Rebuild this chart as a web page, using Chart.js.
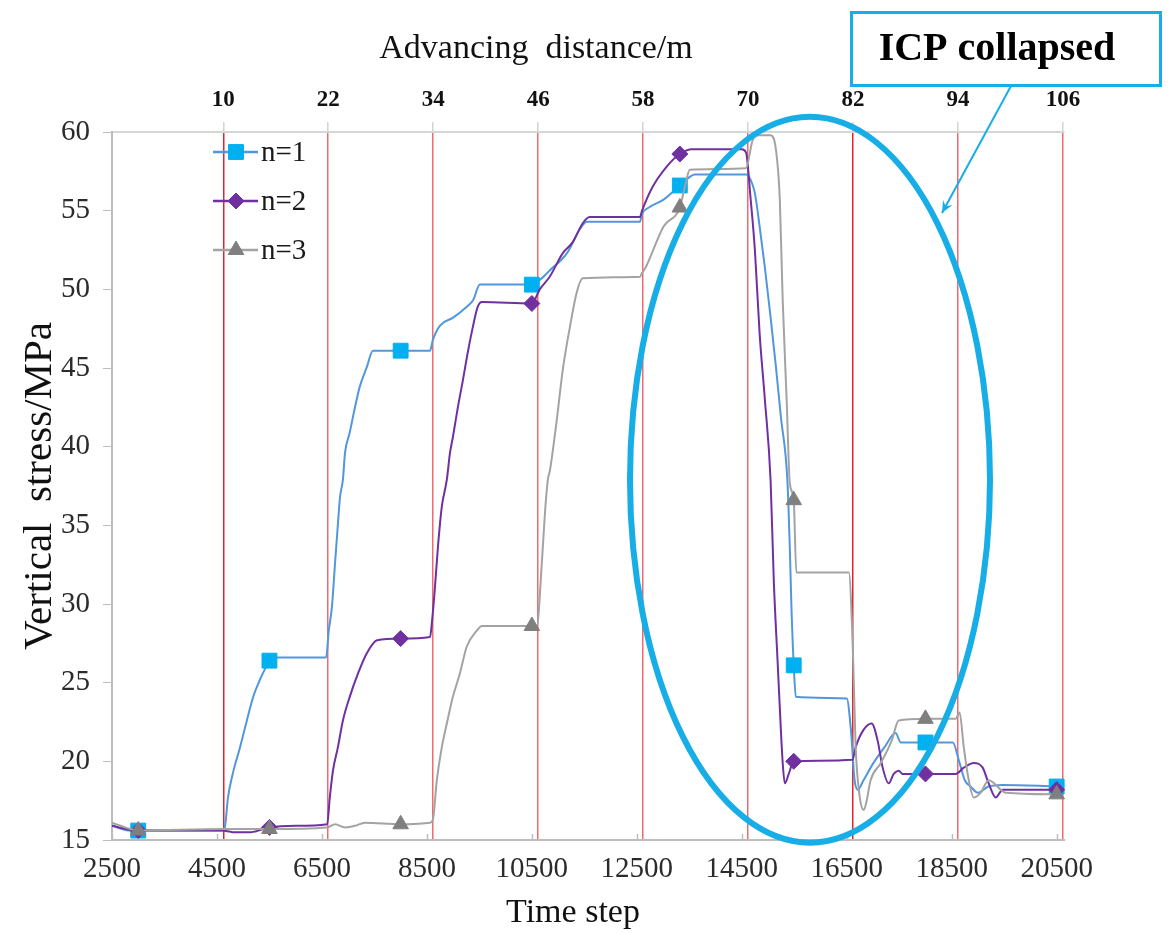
<!DOCTYPE html>
<html>
<head>
<meta charset="utf-8">
<title>Vertical stress vs time step</title>
<script src="https://cdn.jsdelivr.net/npm/chart.js@4.4.0/dist/chart.umd.min.js"></script>
<style>
  html, body { margin: 0; padding: 0; background: #ffffff; }
  canvas { display: block; }
</style>
</head>
<body>
<canvas id="c" width="1168" height="933"></canvas>
<script>
// ---- data: time step vs vertical stress (MPa) for three roof conditions ----
const stepsN1 = [2500, 2850, 3000, 4600, 4650, 4710, 4800, 4940, 5070, 5190, 5320, 5450, 5500, 5600, 6580,
  6630, 6690, 6750, 6805, 6845, 6900, 6940, 7030, 7130, 7220, 7360, 7470, 8000, 8560, 8615, 8750, 9000,
  9260, 9380, 9510, 10500, 10650, 10840, 11170, 11410, 11550, 12560, 12600, 12730, 13010, 13320, 13490,
  13600, 14580, 14630, 14750, 14840, 14940, 15050, 15150, 15245, 15370, 15415, 15450, 15475, 15490, 15530,
  16500, 16580, 16650, 16710, 16820, 17010, 17220, 17430, 17530, 18000, 18520, 18650, 18750, 18860, 19000,
  19200, 19470, 20500];
const stressN1 = [15.9, 15.6, 15.6, 15.6, 15.8, 17.7, 19.2, 20.9, 22.6, 24.1, 25.2, 26.1, 26.4, 26.6, 26.6,
  28.3, 29.8, 32.6, 35.1, 36.8, 37.9, 39.6, 40.9, 42.5, 43.8, 45.1, 46.1, 46.1, 46.1, 46.8, 47.7, 48.2,
  48.9, 49.3, 50.3, 50.3, 50.6, 51.2, 52.3, 53.8, 54.3, 54.3, 54.8, 55.2, 55.7, 56.6, 57.1,
  57.3, 57.3, 57.2, 56.1, 54.0, 51.4, 48.2, 45.1, 41.9, 37.8, 33.6, 29.4, 27.2, 26.1, 24.1,
  24.0, 22.0, 18.8, 18.2, 18.8, 19.9, 20.9, 21.8, 21.2, 21.2, 21.2, 19.9, 18.8, 18.4, 18.0,
  18.4, 18.5, 18.4];

const stepsN2 = [2500, 2850, 3000, 4600, 4800, 5150, 5500, 6000, 6600, 6650, 6710, 6805, 6900, 7030, 7190,
  7360, 7550, 8000, 8560, 8595, 8650, 8710, 8785, 8880, 8940, 8995, 9090, 9185, 9280, 9375, 9470, 9550,
  10500, 10650, 10840, 11090, 11280, 11470, 11600, 12560, 12600, 12800, 13070, 13320, 13550, 14500, 14580,
  14670, 14750, 14840, 14940, 15050, 15110, 15185, 15245, 15280, 15320, 15395, 15490, 16610, 16670, 16820,
  16975, 17090, 17185, 17300, 17395, 17490, 17565, 18000, 18575, 18730, 18920, 19090, 19205, 19340, 19470,
  20500];
const stressN2 = [15.9, 15.65, 15.6, 15.6, 15.5, 15.5, 15.8, 15.9, 16.0, 17.7, 19.4, 20.9, 22.6, 24.1, 25.6,
  26.9, 27.7, 27.8, 27.9, 28.8, 30.9, 33.6, 36.2, 37.9, 39.6, 40.6, 42.5, 44.2, 46.0, 47.6, 48.9, 49.2,
  49.1, 50.0, 50.8, 52.3, 53.0, 54.2, 54.6, 54.6, 55.0, 56.5, 57.8, 58.6, 58.9, 58.9, 58.7,
  55.7, 52.5, 47.2, 43.0, 37.8, 31.5, 26.2, 22.0, 19.9, 18.6, 19.2, 20.0, 20.1, 20.9, 22.0,
  22.4, 21.3, 19.6, 18.6, 19.2, 19.4, 19.2, 19.2, 19.2, 19.6, 19.9, 19.6, 18.6, 17.7, 18.2,
  18.2];

const stepsN3 = [2500, 2850, 3000, 4600, 5500, 6600, 6750, 6940, 7130, 7320, 8000, 8560, 8615, 8690, 8785,
  8880, 8995, 9130, 9260, 9450, 9550, 10500, 10595, 10690, 10750, 10805, 10845, 10975, 11090, 11225, 11355,
  11470, 12560, 12595, 12670, 13010, 13320, 13415, 13510, 14580, 14710, 14840, 15050, 15150, 15225, 15280,
  15355, 15415, 15490, 15540, 16540, 16615, 16670, 16750, 16825, 16880, 16955, 17150, 17355, 17490, 18000,
  18575, 18650, 18730, 18825, 18920, 19050, 19205, 19530, 20500];
const stressN3 = [16.1, 15.7, 15.6, 15.7, 15.7, 15.8, 16.0, 15.8, 15.9, 16.1, 16.0, 16.1, 16.3, 18.8, 20.9,
  22.4, 24.1, 25.6, 27.3, 28.3, 28.6, 28.6, 28.6, 32.6, 35.8, 37.9, 38.5, 41.7, 44.9, 47.6, 49.8,
  50.7, 50.8, 51.0, 51.4, 54.0, 55.2, 56.5, 57.6, 57.7, 59.5, 59.8, 59.8, 58.9, 55.7, 49.3,
  43.0, 37.7, 36.6, 32.0, 32.0, 27.3, 20.9, 17.7, 16.9, 17.5, 18.8, 19.9, 21.3, 22.6, 22.7,
  22.7, 23.1, 20.9, 18.8, 17.7, 18.0, 18.8, 18.0, 17.9];

// time steps carrying a marker symbol on every curve
const markerSteps = [3000, 5500, 8000, 10500, 13320, 15490, 18000, 20500];

// tick labels
const timeTicks = [2500, 4500, 6500, 8500, 10500, 12500, 14500, 16500, 18500, 20500];
const distanceTicks = [10, 22, 34, 46, 58, 70, 82, 94, 106];
const stressTicks = [15, 20, 25, 30, 35, 40, 45, 50, 55, 60];
const seriesNames = ['n=1', 'n=2', 'n=3'];

// ---- axis relations ----
const stepMin = 2500, stepMax = 20640;
const firstFaceStep = 4620;          // time step at 10 m of advance
const metresPerStep = 12 / 2000;     // 12 m of advance per 2000 steps
const toDistance = t => 10 + (t - firstFaceStep) * metresPerStep;

const serif = "'Liberation Serif', 'Times New Roman', serif";
const cyan = '#17ade6';

function series(label, steps, stress, lineColor, markerColor, style, radius, order) {
  return {
    label,
    data: steps.map((s, i) => ({ x: s, y: stress[i] })),
    borderColor: lineColor,
    backgroundColor: markerColor,
    pointBackgroundColor: markerColor,
    pointBorderColor: markerColor,
    pointBorderWidth: 1,
    pointStyle: style,
    markerRadius: radius,
    pointRadius: ctx => (ctx.raw && markerSteps.includes(ctx.raw.x)) ? radius : 0,
    pointHoverRadius: 0,
    borderWidth: 2,
    cubicInterpolationMode: 'monotone',
    order,
    clip: 12
  };
}

const datasets = [
  series(seriesNames[0], stepsN1, stressN1, '#5197dc', '#00b0f0', 'rect', 10.5, 2),
  series(seriesNames[1], stepsN2, stressN2, '#7030a0', '#7030a0', 'rectRot', 8, 1),
  series(seriesNames[2], stepsN3, stressN3, '#a3a3a3', '#7f7f7f', 'triangle', 9, 0)
];

// axis titles, legend, collapse zone and callout drawn over the plot
const overlay = {
  id: 'overlay',
  afterDraw(chart) {
    const { ctx, scales: { x, y } } = chart;
    ctx.save();

    // inward tick marks on the time-step axis
    ctx.strokeStyle = '#bdbdbd';
    ctx.lineWidth = 1.5;
    timeTicks.forEach(t => {
      const px = Math.round(x.getPixelForValue(t)) + 0.5;
      ctx.beginPath();
      ctx.moveTo(px, y.bottom);
      ctx.lineTo(px, y.bottom - 6);
      ctx.stroke();
    });

    // axis titles
    ctx.fillStyle = '#111';
    ctx.textBaseline = 'alphabetic';
    ctx.textAlign = 'center';
    ctx.font = `34px ${serif}`;
    ctx.fillText('Advancing  distance/m', 536, 58);
    ctx.fillText('Time step', 573, 922);
    ctx.save();
    ctx.translate(51, 486);
    ctx.rotate(-Math.PI / 2);
    ctx.font = `41px ${serif}`;
    ctx.fillText('Vertical  stress/MPa', 0, 0);
    ctx.restore();

    // legend
    chart.data.datasets.forEach((ds, i) => {
      const rowY = 152 + i * 49;
      ctx.strokeStyle = ds.borderColor;
      ctx.lineWidth = 2.5;
      ctx.beginPath();
      ctx.moveTo(213, rowY);
      ctx.lineTo(258, rowY);
      ctx.stroke();
      ctx.fillStyle = ds.pointBackgroundColor;
      ctx.strokeStyle = ds.pointBorderColor;
      ctx.lineWidth = 1;
      Chart.helpers.drawPoint(ctx, { pointStyle: ds.pointStyle, radius: ds.markerRadius, rotation: 0, borderWidth: 1 }, 236, rowY);
      ctx.fillStyle = '#1a1a1a';
      ctx.font = `29px ${serif}`;
      ctx.textAlign = 'left';
      ctx.textBaseline = 'middle';
      ctx.fillText(ds.label, 261, rowY + 1);
    });

    // collapse zone ellipse (data coordinates)
    const cStep = 15800, cStress = 37.9, halfSteps = 3430, halfStress = 23.07;
    const cx = x.getPixelForValue(cStep);
    const cy = y.getPixelForValue(cStress);
    const rx = x.getPixelForValue(cStep + halfSteps) - cx;
    const ry = cy - y.getPixelForValue(cStress + halfStress);
    ctx.beginPath();
    ctx.ellipse(cx, cy, rx, ry, 0, 0, Math.PI * 2);
    ctx.lineWidth = 6;
    ctx.strokeStyle = cyan;
    ctx.stroke();

    // callout box
    ctx.lineWidth = 3;
    ctx.strokeStyle = cyan;
    ctx.strokeRect(851.5, 12.5, 309, 73);
    ctx.fillStyle = '#000';
    ctx.font = `bold 40px ${serif}`;
    ctx.textAlign = 'center';
    ctx.textBaseline = 'middle';
    ctx.fillText('ICP collapsed', 997, 50);

    // pointer from the callout to the ellipse
    const x0 = 1011, y0 = 86, x1 = 942, y1 = 213;
    ctx.lineWidth = 2;
    ctx.beginPath();
    ctx.moveTo(x0, y0);
    ctx.lineTo(x1, y1);
    ctx.stroke();
    const ang = Math.atan2(y1 - y0, x1 - x0);
    const head = 13, spread = 0.42;
    ctx.beginPath();
    ctx.moveTo(x1, y1);
    ctx.lineTo(x1 - head * Math.cos(ang - spread), y1 - head * Math.sin(ang - spread));
    ctx.lineTo(x1 - head * 0.6 * Math.cos(ang), y1 - head * 0.6 * Math.sin(ang));
    ctx.lineTo(x1 - head * Math.cos(ang + spread), y1 - head * Math.sin(ang + spread));
    ctx.closePath();
    ctx.fillStyle = cyan;
    ctx.fill();

    ctx.restore();
  }
};

const strongLines = [10, 82];

new Chart(document.getElementById('c'), {
  type: 'line',
  data: { datasets },
  options: {
    responsive: false,
    animation: false,
    devicePixelRatio: 1,
    layout: { padding: { left: 0, right: 104, top: 0, bottom: 0 } },
    plugins: { legend: { display: false }, tooltip: { enabled: false } },
    scales: {
      x: {
        type: 'linear',
        position: 'bottom',
        min: stepMin,
        max: stepMax,
        afterBuildTicks: s => { s.ticks = timeTicks.map(v => ({ value: v })); },
        afterFit: s => { s.height = 93; },
        grid: { drawOnChartArea: false, drawTicks: false },
        border: { color: '#bdbdbd', width: 2 },
        ticks: { padding: 12, autoSkip: false, maxRotation: 0, color: '#2b2b2b',
                 font: { family: serif, size: 29 }, callback: v => String(v) }
      },
      x2: {
        type: 'linear',
        position: 'top',
        min: toDistance(stepMin),
        max: toDistance(stepMax),
        afterBuildTicks: s => { s.ticks = distanceTicks.map(v => ({ value: v })); },
        afterFit: s => { s.height = 132; },
        grid: {
          drawOnChartArea: true,
          color: c => strongLines.includes(c.tick && c.tick.value) ? '#e3252b' : '#f06a6e',
          lineWidth: 1.5,
          tickColor: '#d4d4d4',
          tickLength: 10
        },
        border: { color: '#d6d6d6', width: 2 },
        ticks: { padding: 8, autoSkip: false, maxRotation: 0, color: '#111',
                 font: { family: serif, size: 23, weight: 'bold' }, callback: v => String(v) }
      },
      y: {
        min: 15,
        max: 60,
        afterBuildTicks: s => { s.ticks = stressTicks.map(v => ({ value: v })); },
        afterFit: s => { s.width = 112; },
        grid: { drawOnChartArea: false, tickLength: 9, tickColor: '#bdbdbd' },
        border: { color: '#bdbdbd', width: 2 },
        ticks: { padding: 13, color: '#2b2b2b', font: { family: serif, size: 29 } }
      }
    }
  },
  plugins: [overlay]
});
</script>
</body>
</html>
